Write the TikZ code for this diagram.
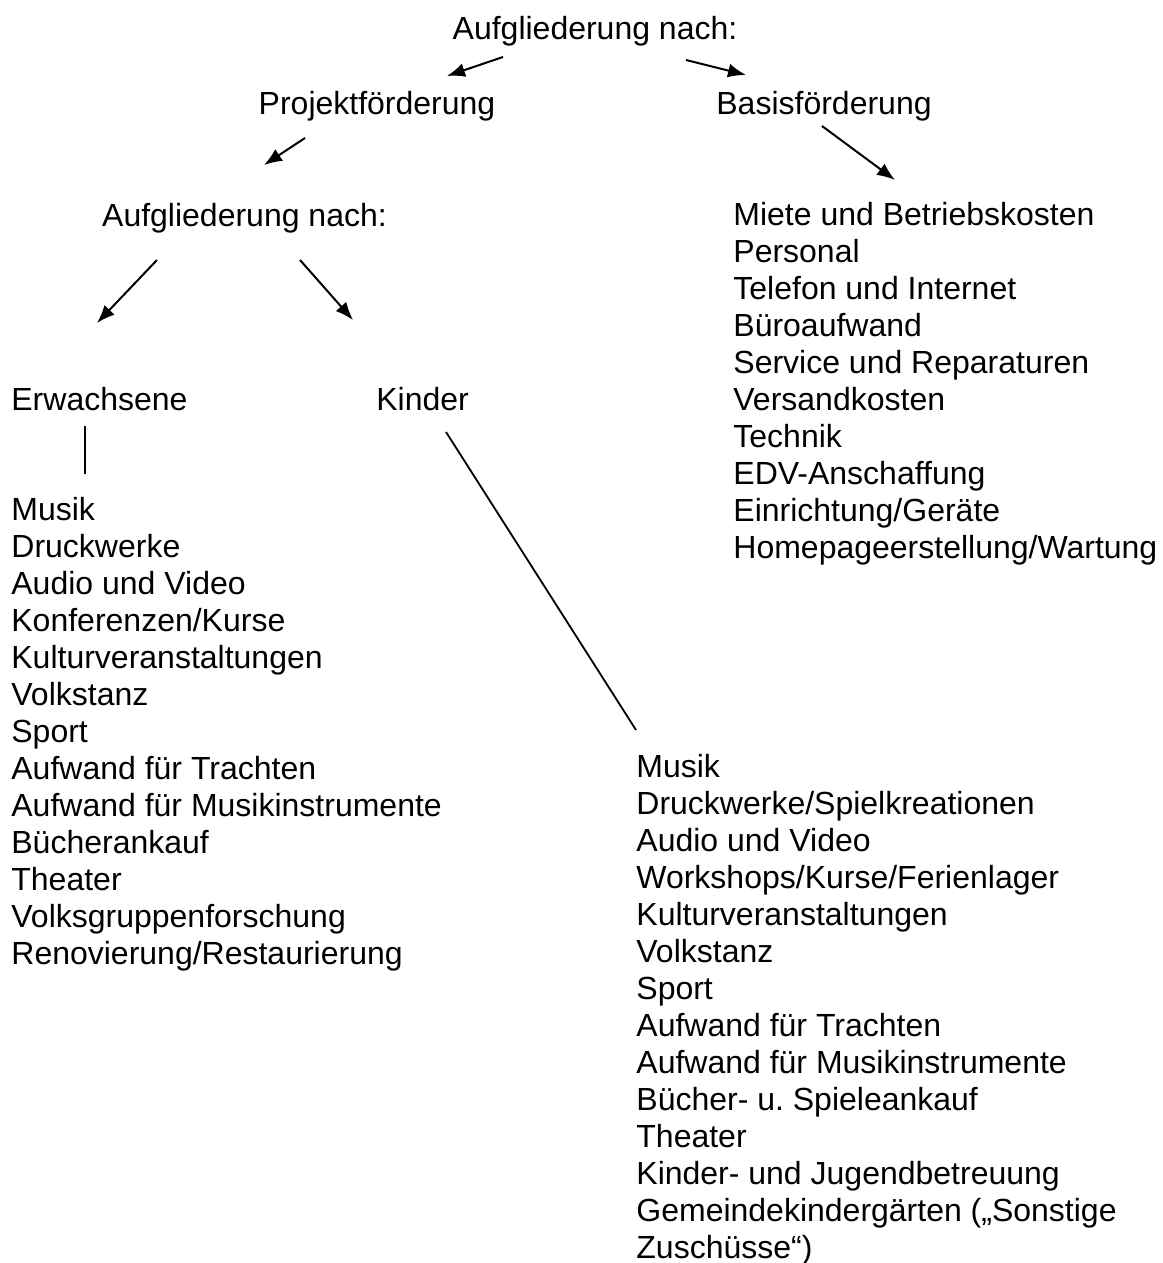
\documentclass[tikz,border=0pt]{standalone}
\usepackage{fontspec}
\setmainfont{Liberation Sans}
\usetikzlibrary{arrows.meta,positioning}

\begin{document}
\frenchspacing
\begin{tikzpicture}[x=0.5pt,y=-0.5pt]
	\tikzstyle{main}=[inner sep=0pt, font=\fontsize{16}{18.5}\selectfont]
	\tikzstyle{list}=[main, align=left, anchor=base west]
	\tikzstyle{connect}=[-{Latex[length=9pt,width=7pt]}, line width=1pt]
	\tikzstyle{link}=[line width=0.9pt]
	\useasboundingbox (0,0) rectangle (1162,1263);
	\node[main, anchor=base] (auf) at (595,40) {Aufgliederung nach:};
	\node[main, anchor=base] (proj) at (377,114) {Projektförderung};
	\node[main, anchor=base] (basis) at (824,114) {Basisförderung};
	\node[main, anchor=base] (auf2) at (244.5,226) {Aufgliederung nach:};
	\node[main, anchor=base west] (erw) at (11,410) {Erwachsene};
	\node[main, anchor=base west] (kind) at (376,410) {Kinder};
	% lists: base = last line
	\node[list] (blist) at (733,558) {Miete und Betriebskosten\\Personal\\Telefon und Internet\\Büroaufwand\\Service und Reparaturen\\Versandkosten\\Technik\\EDV-Anschaffung\\Einrichtung/Geräte\\Homepageerstellung/Wartung};
	\node[list] (elist) at (11,964) {Musik\\Druckwerke\\Audio und Video\\Konferenzen/Kurse\\Kulturveranstaltungen\\Volkstanz\\Sport\\Aufwand für Trachten\\Aufwand für Musikinstrumente\\Bücherankauf\\Theater\\Volksgruppenforschung\\Renovierung/Restaurierung};
	\node[list] (klist) at (636,1258) {Musik\\Druckwerke/Spielkreationen\\Audio und Video\\Workshops/Kurse/Ferienlager\\Kulturveranstaltungen\\Volkstanz\\Sport\\Aufwand für Trachten\\Aufwand für Musikinstrumente\\Bücher- u. Spieleankauf\\Theater\\Kinder- und Jugendbetreuung\\Gemeindekindergärten („Sonstige\\Zuschüsse“)};
	\draw[connect] ([shift={(-92,17)}]auf.base) -- ([shift={(70,-38)}]proj.base);
	\draw[connect] ([shift={(91,20)}]auf.base) -- ([shift={(-78,-39)}]basis.base);
	\draw[connect] ([shift={(-72,24)}]proj.base) -- ([shift={(19.5,-61)}]auf2.base);
	\draw[connect] ([shift={(-2,12)}]basis.base) -- ([shift={(162,-378)}]blist.base west);
	\draw[connect] ([shift={(-87.5,34)}]auf2.base) -- ([shift={(86,-87)}]erw.base west);
	\draw[connect] ([shift={(55.5,34)}]auf2.base) -- ([shift={(-23,-90)}]kind.base west);
	\draw[link] ([shift={(74,16)}]erw.base west) -- ([shift={(74,-490)}]elist.base west);
	\draw[link] ([shift={(70,22)}]kind.base west) -- ([shift={(0,-528)}]klist.base west);
\end{tikzpicture}
\end{document}
